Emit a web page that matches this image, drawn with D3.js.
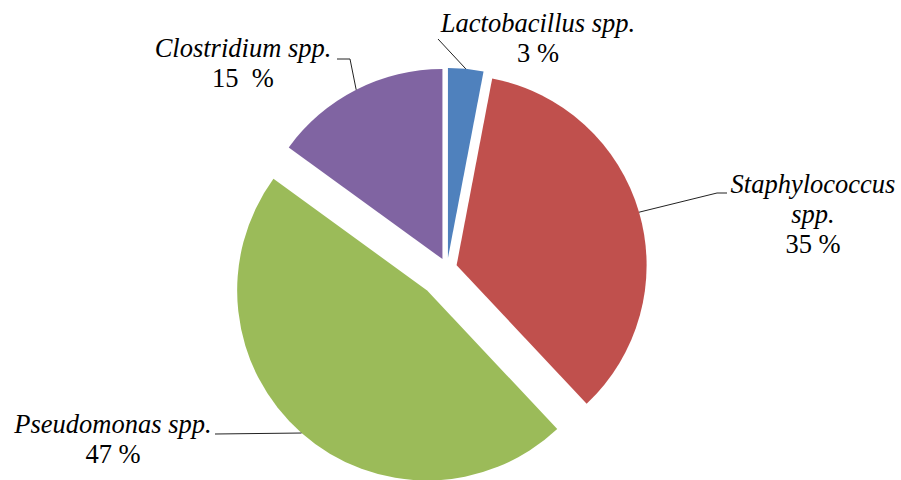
<!DOCTYPE html>
<html>
<head>
<meta charset="utf-8">
<script src="https://cdn.jsdelivr.net/npm/d3@7"></script>
<style>
  body { margin: 0; background: #fff; }
  .name { font-style: italic; }
</style>
</head>
<body>
<svg id="pie" width="901" height="480"></svg>
<script>
// data
const genera = ['Lactobacillus spp.', 'Staphylococcus spp.', 'Pseudomonas spp.', 'Clostridium spp.'];
const shares = [3, 35, 47, 15];
const pctLabels = ['3 %', '35 %', '47 %', '15  %'];
const colors = ['#4F81BD', '#C0504D', '#9BBB59', '#8064A2'];

// layout
const width_pie = 901;
const height_pie = 480;
const center = { x: 447, y: 268 };
const radius = 190;
const explode = [10, 10, 30, 10];
const fontFamily = "'Liberation Serif', 'Times New Roman', Times, serif";

// label lines (name split over lines) and leader elbows
const labelLines = [
  ['Lactobacillus spp.'],
  ['Staphylococcus', 'spp.'],
  ['Pseudomonas spp.'],
  ['Clostridium spp.']
];
const labelPos = [
  { x: 538, y: 32 },
  { x: 813, y: 193 },
  { x: 113, y: 433 },
  { x: 243, y: 57 }
];
const leaderElbows = [
  [[438, 39]],
  [[717, 193], [727, 193]],
  [[215, 434]],
  [[350, 59], [337, 59]]
];
const lineGap = 30;

function Draw_Pie(){
  const svg = d3.select('#pie');

  const pie = d3.pie().sort(null).value(d => d)(shares);
  const arc = d3.arc().innerRadius(0).outerRadius(radius);
  const edge = d3.arc().innerRadius(radius).outerRadius(radius);

  // exploded slice offset along its middle angle
  const shift = (d, i) => {
    const mid = (d.startAngle + d.endAngle) / 2;
    return [center.x + explode[i] * Math.sin(mid), center.y - explode[i] * Math.cos(mid)];
  };

  // slices
  svg.selectAll('path.slice')
    .data(pie)
    .enter()
    .append('path')
    .attr('class', 'slice')
    .attr('transform', (d, i) => `translate(${shift(d, i)})`)
    .attr('d', arc)
    .attr('fill', (d, i) => colors[i]);

  // leader lines
  svg.selectAll('path.leader')
    .data(pie)
    .enter()
    .append('path')
    .attr('class', 'leader')
    .attr('d', (d, i) => {
      const s = shift(d, i);
      const c = edge.centroid(d);
      const pts = [[s[0] + c[0], s[1] + c[1]]].concat(leaderElbows[i]);
      return d3.line()(pts);
    })
    .attr('fill', 'none')
    .attr('stroke', '#222')
    .attr('stroke-width', 1);

  // labels
  const labels = svg.selectAll('text.label')
    .data(pie)
    .enter()
    .append('text')
    .attr('class', 'label')
    .attr('font-family', fontFamily)
    .attr('font-size', 26.5)
    .attr('fill', '#000')
    .attr('text-anchor', 'middle')
    .attr('x', (d, i) => labelPos[i].x)
    .attr('y', (d, i) => labelPos[i].y);

  labels.each(function(d, i){
    const t = d3.select(this);
    labelLines[i].forEach((ln, k) => {
      t.append('tspan')
        .attr('class', 'name')
        .attr('x', labelPos[i].x)
        .attr('dy', k === 0 ? 0 : lineGap)
        .text(ln);
    });
    t.append('tspan')
      .attr('x', labelPos[i].x)
      .attr('dy', lineGap)
      .style('white-space', 'pre')
      .text(pctLabels[i]);
  });
}

Draw_Pie();
</script>
</body>
</html>
